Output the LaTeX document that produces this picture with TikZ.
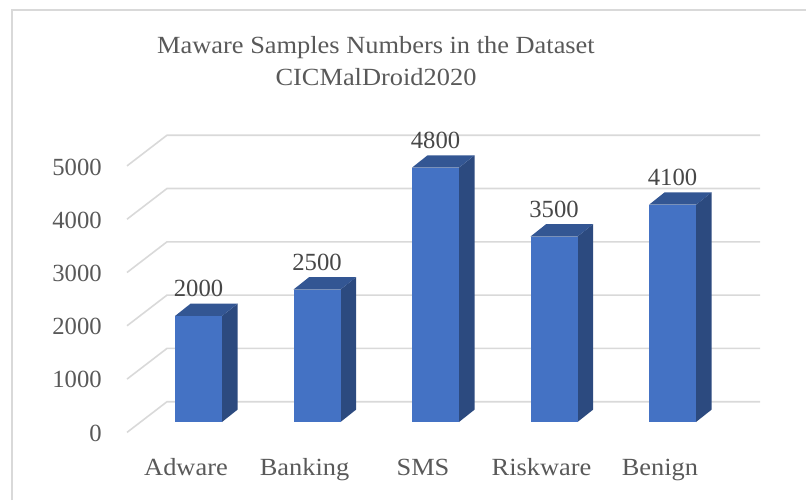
\documentclass[tikz,border=0pt]{standalone}
\usepackage{fontspec}
\setmainfont{Liberation Serif}
\newfontfamily\wordfont{Liberation Serif}[FakeStretch=1.07]
\definecolor{gridgray}{HTML}{D9D9D9}
\definecolor{textgray}{HTML}{595959}
\definecolor{barfront}{HTML}{4472C4}
\definecolor{bartop}{HTML}{335693}
\definecolor{barside}{HTML}{2C4A7F}
\begin{document}
\begin{tikzpicture}[x=0.75pt,y=-0.75pt,
  gridline/.style={draw=gridgray,line width=1.2pt},
  lab/.style={text=textgray,font=\fontsize{18.5}{22}\selectfont,inner sep=0pt},
  wordlab/.style={lab,font=\fontsize{18.5}{22}\wordfont,anchor=base},
  vallab/.style={text=black!72,font=\fontsize{18.5}{22}\selectfont,inner sep=0pt,anchor=base}]
\useasboundingbox (0,0) rectangle (806,500);
% chart frame, cut at the page edge
\draw[gridgray,line width=1.4pt] (12,500) -- (12,10) -- (806,10);
% title
\node[wordlab] (title1) at (376,53.3) {Maware Samples Numbers in the Dataset};
\node[wordlab] (title2) at (376,85) {CICMalDroid2020};
% back wall and floor lines, axis labels
\foreach \k in {0,...,5}{
  \pgfmathsetmacro\yb{401.7-53.3*\k}
  \draw[gridline] (127,\yb+30.7) -- (167,\yb) -- (760,\yb);
  \pgfmathtruncatemacro\num{1000*\k}
  \node[lab,anchor=base east] (ylab\k) at (102,441-53.2*\k) {\num};
}
% bars
\foreach \xl/\v/\name in {175/2000/Adware,293.5/2500/Banking,412/4800/SMS,530.5/3500/Riskware,649/4100/Benign}{
  \pgfmathsetmacro\t{422-0.053*\v}
  \fill[barside] (\xl+47,422) -- (\xl+62.5,409.7) -- (\xl+62.5,\t-12.3) -- (\xl+47,\t) -- cycle;
  \fill[bartop] (\xl,\t) -- (\xl+15.5,\t-12.3) -- (\xl+62.5,\t-12.3) -- (\xl+47,\t) -- cycle;
  \fill[barfront] (\xl,422) rectangle (\xl+47,\t);
  \node[vallab] (val-\name) at (\xl+23.5,\t-19.3) {\v};
  \node[wordlab] (cat-\name) at (\xl+11,475) {\name};
}
\end{tikzpicture}
\end{document}
